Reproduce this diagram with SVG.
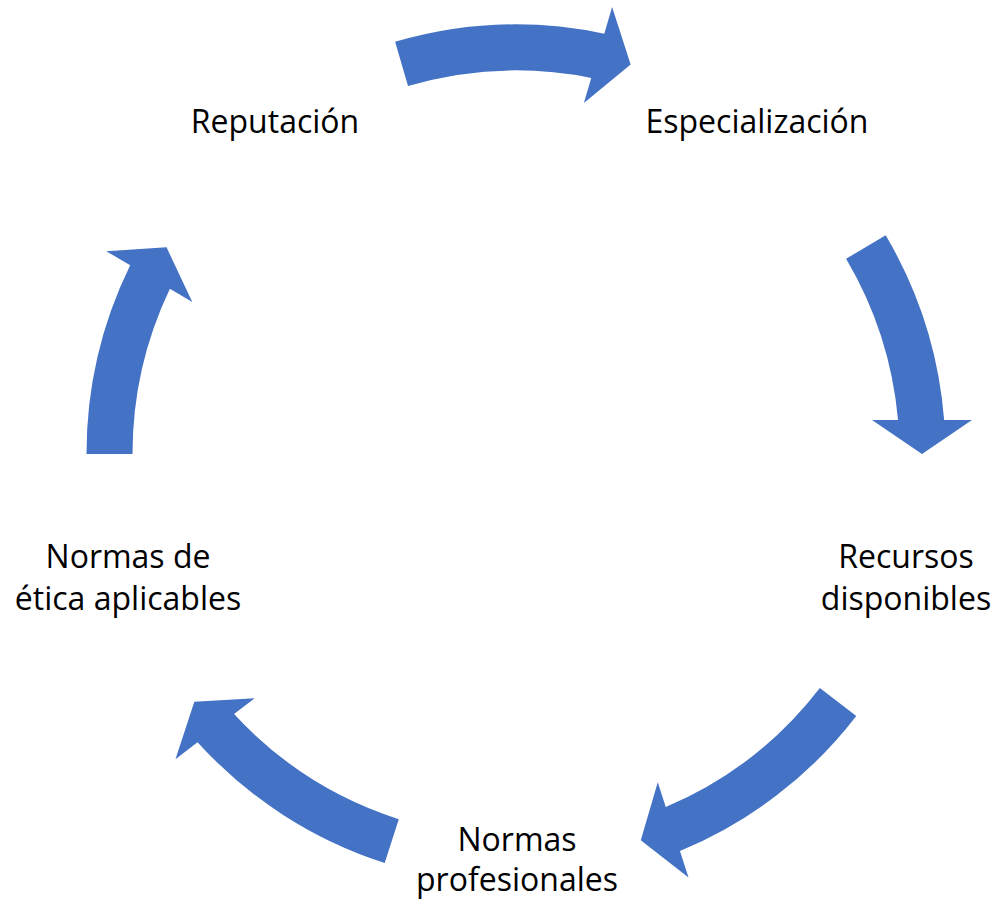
<svg xmlns="http://www.w3.org/2000/svg" width="996" height="900" viewBox="0 0 996 900">
<style>
.lbl{font-family:"Open Sans","Noto Sans","Liberation Sans",sans-serif;font-size:32px;fill:#000;text-anchor:middle}
.arr{fill:#4472C4}
</style>
<rect width="996" height="900" fill="#fff"/>
<g id="connectors">
<path class="arr" transform="translate(516,454) rotate(16.4)" d="M0,-406 L-34,-456 L-34,-428.15 A429.5,429.5 0 0 0 -232.35,-361.23 L-207.46,-322.54 A383.5,383.5 0 0 1 -34,-382 L-34,-356 Z"/>
<path class="arr" transform="translate(516,454) rotate(90)" d="M0,-406 L-34,-456 L-34,-428.15 A429.5,429.5 0 0 0 -218.63,-369.69 L-195.22,-330.09 A383.5,383.5 0 0 1 -34,-382 L-34,-356 Z"/>
<path class="arr" transform="translate(516,454) rotate(162.1)" d="M0,-406 L-34,-456 L-34,-428.15 A429.5,429.5 0 0 0 -243.27,-353.96 L-217.22,-316.05 A383.5,383.5 0 0 1 -34,-382 L-34,-356 Z"/>
<path class="arr" transform="translate(516,454) rotate(232.4)" d="M0,-406 L-34,-456 L-34,-428.15 A429.5,429.5 0 0 0 -243.89,-353.54 L-217.77,-315.67 A383.5,383.5 0 0 1 -34,-382 L-34,-356 Z"/>
<path class="arr" transform="translate(516,454) rotate(300.6)" d="M0,-406 L-34,-456 L-34,-428.15 A429.5,429.5 0 0 0 -218.63,-369.69 L-195.22,-330.09 A383.5,383.5 0 0 1 -34,-382 L-34,-356 Z"/>
</g>
<g id="node-reputacion"><text class="lbl" x="275" y="133">Reputación</text></g>
<g id="node-especializacion"><text class="lbl" x="757" y="133">Especialización</text></g>
<g id="node-recursos"><text class="lbl" x="906" y="568">Recursos</text><text class="lbl" x="906" y="610">disponibles</text></g>
<g id="node-normas-prof"><text class="lbl" x="517" y="851">Normas</text><text class="lbl" x="517" y="891">profesionales</text></g>
<g id="node-normas-etica"><text class="lbl" x="128" y="568">Normas de</text><text class="lbl" x="128" y="610">ética aplicables</text></g>
</svg>
